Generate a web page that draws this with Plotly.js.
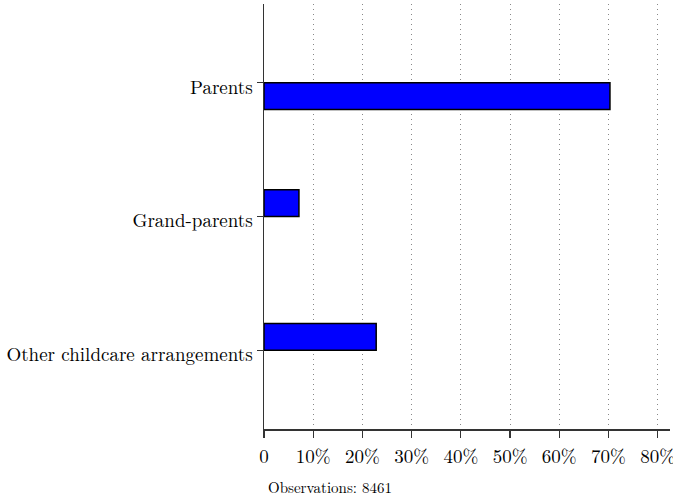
<!DOCTYPE html>
<html>
<head>
<meta charset="utf-8">
<script src="https://cdn.plot.ly/plotly-3.0.1.min.js"></script>
<style>html,body{margin:0;padding:0;background:#fff;}#chart{width:673px;height:501px;}</style>
</head>
<body>
<div id="chart"></div>
<script>
// Data (bottom to top)
const categories = ["Other childcare arrangements", "Grand-parents", "Parents"];
const shares = [22.8, 7.1, 70.3];
const tickValues = [0, 10, 20, 30, 40, 50, 60, 70, 80];
const tickLabels = ["0", "10%", "20%", "30%", "40%", "50%", "60%", "70%", "80%"];
const noteText = "Observations: 8461";

const font = "'Latin Modern Roman', 'CMU Serif', 'DejaVu Serif', 'Liberation Serif', serif";

const trace = {
  type: "bar",
  orientation: "h",
  x: shares,
  y: categories,
  width: 0.2,
  offset: [0, 0, -0.2],
  marker: { color: "#0000ff", line: { color: "#000000", width: 1.5 } },
  hoverinfo: "skip"
};

const layout = {
  width: 673,
  height: 501,
  margin: { l: 264, r: 3, t: 4, b: 72 },
  paper_bgcolor: "#ffffff",
  plot_bgcolor: "#ffffff",
  showlegend: false,
  font: { family: font, size: 19, color: "#000" },
  xaxis: {
    range: [0, 82.5],
    tickvals: tickValues,
    ticktext: tickLabels,
    ticks: "outside",
    ticklen: 7,
    tickcolor: "#333",
    tickwidth: 1.2,
    showline: true,
    linecolor: "#333",
    linewidth: 1.5,
    showgrid: true,
    gridcolor: "#888",
    griddash: "1px,4px",
    gridwidth: 1,
    zeroline: false,
    tickfont: { family: font, size: 19, color: "#000" },
    ticklabeloverflow: "allow",
    ticklabelstandoff: 3,
    fixedrange: true
  },
  yaxis: {
    type: "category",
    categoryorder: "array",
    categoryarray: categories,
    range: [-0.59, 2.59],
    ticks: "outside",
    ticklen: 6,
    tickcolor: "#333",
    tickwidth: 1.2,
    showline: true,
    linecolor: "#333",
    linewidth: 1.5,
    showgrid: false,
    zeroline: false,
    tickfont: { family: font, size: 19, color: "#000" },
    ticklabelstandoff: 0,
    ticklabelshift: 4,
    fixedrange: true
  },
  annotations: [{
    text: noteText,
    xref: "paper", yref: "paper",
    x: 0, y: 0,
    xanchor: "left", yanchor: "top",
    xshift: 2, yshift: -45,
    showarrow: false,
    font: { family: font, size: 15, color: "#000" }
  }]
};

Plotly.newPlot("chart", [trace], layout, { staticPlot: true, displayModeBar: false });
</script>
</body>
</html>
